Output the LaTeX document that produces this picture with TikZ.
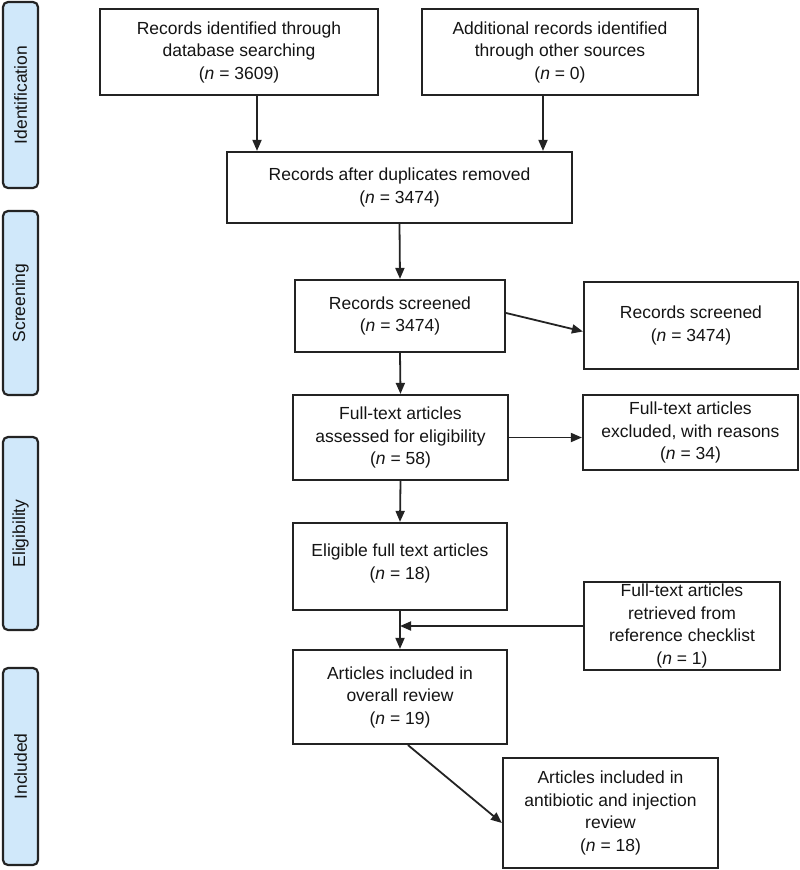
\documentclass[tikz,border=0pt]{standalone}
\usepackage{fontspec}
\setmainfont{Liberation Sans}
\usepackage{xcolor}
\usetikzlibrary{shapes,arrows.meta}
\definecolor{stagefill}{RGB}{208,232,250}
\definecolor{linegray}{RGB}{35,35,35}
\newcommand{\nval}[1]{(\textit{n} = #1)}

\begin{document}
\begin{tikzpicture}[x=1pt, y=-1pt,
  box/.style={draw=linegray, line width=2.2pt, align=center, inner sep=0pt, text=black!92, font=\fontsize{17.5}{22.5}\selectfont},
  stage/.style={draw=linegray, fill=stagefill, line width=2.2pt, rounded corners=5pt, rotate=90, inner sep=0pt, minimum height=35pt, text=black!92, font=\fontsize{17.5}{22}\selectfont},
  arr/.style={draw=linegray, line width=1.8pt, -{Triangle[length=11pt,width=9pt]}}]
\useasboundingbox (0,0) rectangle (800,870);
\node[stage, minimum width=186pt] (ident) at (20.5,95) {Identification};
\node[stage, minimum width=184pt] (screen) at (20.5,303) {Screening};
\node[stage, minimum width=193pt] (elig) at (20.5,533.5) {Eligibility};
\node[stage, minimum width=197pt] (incl) at (20.5,766.5) {Included};
\node[box, minimum width=278pt, minimum height=86pt] (dbrec) at (239,52) {Records identified through\\database searching\\\nval{3609}};
\node[box, minimum width=276pt, minimum height=86pt] (othrec) at (560,52) {Additional records identified\\through other sources\\\nval{0}};
\node[box, minimum width=345pt, minimum height=71pt] (dedup) at (399.5,187.5) {Records after duplicates removed\\\nval{3474}};
\node[box, minimum width=210pt, minimum height=72pt] (scrn) at (400,316) {Records screened\\\nval{3474}};
\node[box, minimum width=214pt, minimum height=87pt] (scrnx) at (691,325.5) {Records screened\\\nval{3474}};
\node[box, minimum width=215pt, minimum height=85pt] (fulltxt) at (400.5,437.5) {Full-text articles\\assessed for eligibility\\\nval{58}};
\node[box, minimum width=215pt, minimum height=75pt] (excl) at (690.5,432.5) {Full-text articles\\excluded, with reasons\\\nval{34}};
\node[box, minimum width=214pt, minimum height=87pt, text depth=10pt] (eligft) at (400,566.5) {Eligible full text articles\\\nval{18}};
\node[box, minimum width=196pt, minimum height=88pt] (refchk) at (682,626) {Full-text articles\\retrieved from\\reference checklist\\\nval{1}};
\node[box, minimum width=214pt, minimum height=94pt] (overall) at (400,697) {Articles included in\\overall review\\\nval{19}};
\node[box, minimum width=215pt, minimum height=110pt] (abxinj) at (610.5,813) {Articles included in\\antibiotic and injection\\review\\\nval{18}};
\draw[arr] ([xshift=18pt]dbrec.south) -- ([xshift=18pt]dbrec.south |- dedup.north);
\draw[arr] ([xshift=-17pt]othrec.south) -- ([xshift=-17pt]othrec.south |- dedup.north);
\draw[arr] (dedup.south) -- (scrn.north);
\draw[arr] ([yshift=3pt]scrn.east) -- ([yshift=-6pt]scrnx.west);
\draw[arr] (scrn.south) -- (fulltxt.north);
\draw[arr] (fulltxt.east) -- (fulltxt.east -| excl.west);
\draw[arr] (fulltxt.south) -- (eligft.north);
\draw[arr] (eligft.south) -- (overall.north);
\draw[arr] (refchk.west) -- (refchk.west -| eligft.south);
\draw[arr] ([xshift=8pt]overall.south) -- ([yshift=-10pt]abxinj.west);
\end{tikzpicture}
\end{document}
